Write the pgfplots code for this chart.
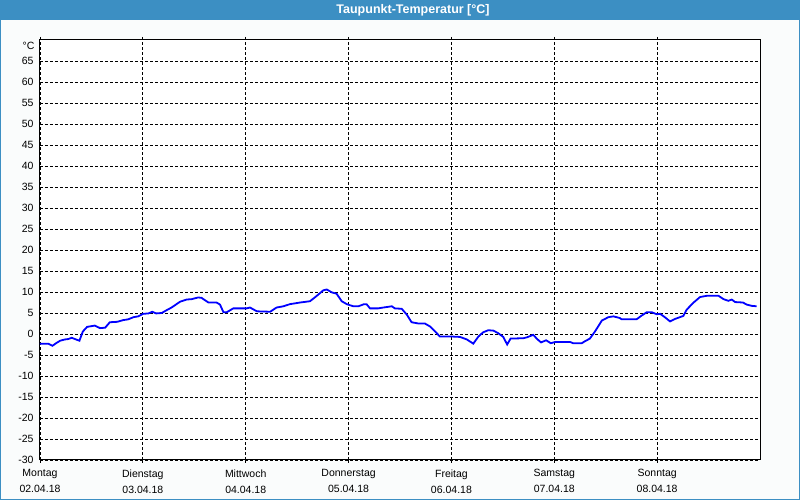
\documentclass[border=0pt]{standalone}
\usepackage{fontspec}
\setmainfont{Liberation Sans}
\usepackage{pgfplots}
\pgfplotsset{compat=1.18}
\usetikzlibrary{backgrounds,calc}
\definecolor{barblue}{HTML}{3C8FC3}
\definecolor{bgpale}{HTML}{FAFCFC}

\begin{document}
\begin{tikzpicture}
\begin{axis}[
  name=ax,
  scale only axis, width=720pt, height=420pt,
  xmin=0, xmax=168, ymin=-30, ymax=70,
  xtick={0,24,...,144},
  xticklabels={{Montag\\02.04.18},{Dienstag\\03.04.18},{Mittwoch\\04.04.18},
    {Donnerstag\\05.04.18},{Freitag\\06.04.18},{Samstag\\07.04.18},{Sonntag\\08.04.18}},
  xticklabel style={align=center, font=\fontsize{10.5}{16}\selectfont, yshift=-3pt},
  ytick={-30,-25,...,65},
  yticklabel style={font=\fontsize{10.5}{12}\selectfont},
  /pgf/number format/assume math mode=true,
  grid=major,
  grid style={black, dash pattern=on 3pt off 2pt, line width=0.8pt},
  axis line style={black, line width=1pt},
  tick align=outside, major tick length=3pt,
  xtick style={black, line width=0.8pt},
  ytick style={draw=none},
  axis background/.style={fill=white},
]
\addplot[blue, line width=1.8pt] coordinates {
(0,-2.3) (1.9,-2.3) (2.9,-2.8) (3.9,-2.1) (4.7,-1.6) (5.8,-1.3) (6.6,-1.2)
(7.4,-0.9) (8.4,-1.3) (9.2,-1.6) (10.0,0.6) (11.0,1.7) (12.8,2.0) (14.0,1.4)
(15.2,1.5) (16.3,2.8) (18.0,2.9) (19.4,3.3) (20.6,3.5) (21.8,4.0) (22.9,4.2)
(24.1,4.8) (25.3,4.9) (26.2,5.3) (27.1,4.9) (28.4,5.0) (29.6,5.7) (30.7,6.3)
(32.7,7.7) (34.2,8.2) (35.4,8.3) (36.9,8.7) (37.7,8.6) (39.3,7.5) (41.2,7.5)
(42.0,7.0) (42.8,5.2) (43.6,5.2) (45.1,6.1) (48.2,6.1) (49.0,6.3) (50.6,5.4)
(53.7,5.3) (55.2,6.3) (56.8,6.6) (58.3,7.1) (60.7,7.5) (63.0,7.8) (64.6,9.1)
(66.1,10.4) (66.9,10.6) (68.1,9.9) (69.2,9.6) (70.4,7.8) (71.6,7.1) (73.1,6.6)
(74.3,6.6) (75.6,7.1) (76.2,7.1) (77.0,6.1) (78.9,6.1) (80.1,6.3) (82.1,6.6)
(82.8,6.1) (84.4,6.0) (85.6,4.6) (86.7,2.8) (88.3,2.5) (89.8,2.5) (91.0,1.8)
(92.2,0.6) (93.3,-0.6) (96.1,-0.6) (98.0,-0.7) (99.6,-1.3) (101.1,-2.3)
(102.3,-0.6) (103.4,0.4) (104.6,0.9) (105.8,0.8) (106.9,0.2) (108.1,-0.7)
(109.0,-2.5) (109.8,-1.1) (112.8,-1.0) (113.6,-0.8) (115.1,-0.2) (116.0,-1.2)
(116.9,-2.0) (118.1,-1.5) (119.2,-2.2) (120.2,-1.9) (123.7,-1.9) (124.4,-2.2)
(126.4,-2.2) (127.2,-1.7) (128.3,-1.1) (129.5,0.6) (131.1,3.2) (132.6,4.0)
(133.8,4.2) (135.3,3.8) (135.7,3.5) (139.2,3.5) (140.4,4.4) (141.6,5.2)
(142.7,5.2) (143.9,4.7) (144.7,4.8) (145.8,4.0) (147.0,3.0) (148.2,3.6)
(150.1,4.3) (150.9,5.8) (152.4,7.4) (154.0,8.8) (155.6,9.1) (158.3,9.1)
(159.5,8.3) (160.6,7.9) (161.4,8.2) (162.2,7.6) (164.0,7.5) (164.9,7.0)
(166.1,6.7) (167.2,6.6)
};
\end{axis}
% frame, title bar and unit label, placed relative to the axis box
\coordinate (O) at (ax.south west);
\node[anchor=east, font=\fontsize{10.5}{12}\selectfont] at ($(O)+(-2pt,414pt)$) {°C};
\begin{scope}[on background layer]
  \fill[bgpale] ($(O)+(-40pt,-40pt)$) rectangle ($(O)+(760pt,460pt)$);
  \fill[barblue] ($(O)+(-40pt,440pt)$) rectangle ($(O)+(760pt,460pt)$);
  \draw[barblue, line width=1pt] ($(O)+(-39.5pt,-39.5pt)$) rectangle ($(O)+(759.5pt,459.5pt)$);
\end{scope}
\node[text=white, font=\bfseries\fontsize{12.5}{14}\selectfont] at ($(O)+(373pt,450pt)$) {Taupunkt-Temperatur [°C]};
\end{tikzpicture}
\end{document}
